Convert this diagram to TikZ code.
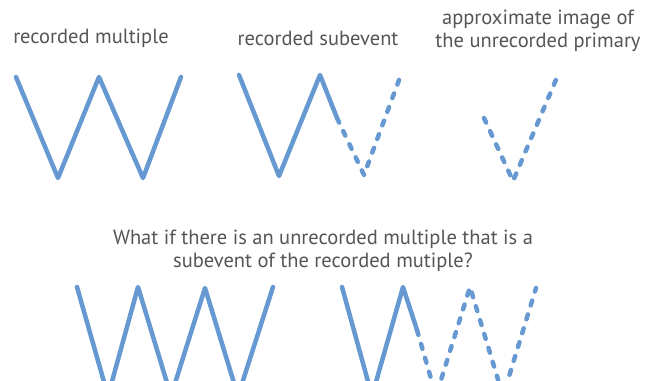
\documentclass[tikz,border=0pt]{standalone}
\usepackage{fontspec}
\setmainfont{PT Sans}
\usetikzlibrary{positioning}
\definecolor{zigblue}{HTML}{6699D2}
\definecolor{inkgray}{HTML}{555555}

\begin{document}
\begin{tikzpicture}[
    x=1pt, y=-1pt,
    heading/.style={text=inkgray, font=\fontsize{20.5}{23}\selectfont,
                    align=center, inner sep=0pt},
    solidpath/.style={zigblue, line width=4.5pt, line cap=round, line join=round},
    dashpath/.style={zigblue, line width=4.5pt, line cap=round, line join=round,
                     dash pattern=on 5pt off 9.5pt}
]

\useasboundingbox (0,0) rectangle (652,380);
\clip (0,0) rectangle (652,380);

\node[heading] (multLabel) at (91,38) {recorded multiple};
\node[heading] (subLabel) at (318,38) {recorded subevent};
\node[heading] (primLabel) at (538,31) {approximate image of\\the unrecorded primary};
\node[heading] (question) at (323,251)
    {What if there is an unrecorded multiple that is a\\subevent of the recorded mutiple?};

\draw[solidpath] (16,77) -- (58,178) -- (99,77) -- (143,178) -- (181,77);

\draw[solidpath] (239,75) -- (279,176) -- (320,75) -- (337,118);
\draw[dashpath] (337,118) -- (364,175) -- (399,80);

\draw[dashpath] (484,118) -- (513,181) -- (558,75);

\draw[solidpath] (77,287) -- (108,396) -- (138,287) -- (171,396)
    -- (205,288) -- (238,396) -- (273,287);

\draw[solidpath] (342,287) -- (372,396) -- (403,287) -- (417,330);
\draw[dashpath] (417,330) -- (436,396) -- (470,287) -- (503,396) -- (536,288);

\end{tikzpicture}
\end{document}
